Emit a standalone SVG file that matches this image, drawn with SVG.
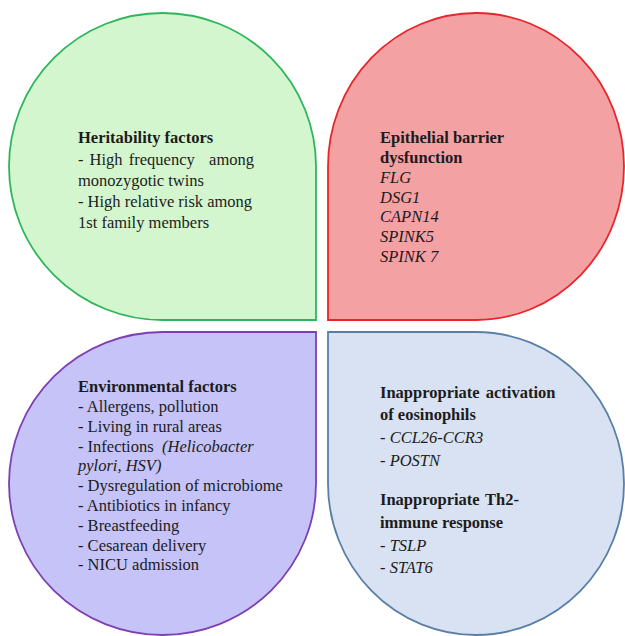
<svg xmlns="http://www.w3.org/2000/svg" width="625" height="636" viewBox="0 0 625 636">
<style>
.shape{stroke-width:1.8}
text{font-family:"Liberation Serif","Times New Roman",serif;font-size:16.5px;fill:#1c1c1c}
.b{font-weight:bold}
.i{font-style:italic}
</style>
<rect width="625" height="636" fill="#ffffff"/>
<g id="heritability">
<path class="shape" d="M316,320 L162.5,320 A153.5,153.5 0 0 1 9,166.5 A153.5,153.5 0 0 1 162.5,13 A153.5,153.5 0 0 1 316,166.5 Z" fill="#d4f6cf" stroke="#2db55a"/>
<text x="78" y="143" class="b">Heritability factors</text>
<text x="78" y="164.5" word-spacing="2">- High frequency<tspan x="254" text-anchor="end">among</tspan></text>
<text x="78" y="186">monozygotic twins</text>
<text x="78" y="207">- High relative risk among</text>
<text x="78" y="228">1st family members</text>
</g>
<g id="epithelial">
<path class="shape" d="M328,320 L328,166.5 A148,153.5 0 0 1 476,13 A148,153.5 0 0 1 624,166.5 A148,153.5 0 0 1 476,320 Z" fill="#f4a1a4" stroke="#e8252b"/>
<text x="380" y="143" class="b">Epithelial barrier</text>
<text x="380" y="163" class="b">dysfunction</text>
<text x="380" y="183" class="i">FLG</text>
<text x="380" y="202.5" class="i">DSG1</text>
<text x="380" y="222" class="i">CAPN14</text>
<text x="380" y="242" class="i">SPINK5</text>
<text x="380" y="261.5" class="i">SPINK 7</text>
</g>
<g id="environmental">
<path class="shape" d="M316,332 L316,483.5 A153.5,151.5 0 0 1 162.5,635 A153.5,151.5 0 0 1 9,483.5 A153.5,151.5 0 0 1 162.5,332 Z" fill="#c5c3f8" stroke="#7d3fb2"/>
<text x="78" y="392" class="b">Environmental factors</text>
<text x="78" y="412">- Allergens, pollution</text>
<text x="78" y="431.5">- Living in rural areas</text>
<text x="78" y="451.5">- Infections <tspan x="162" class="i">(Helicobacter</tspan></text>
<text x="78" y="471" class="i">pylori, HSV)</text>
<text x="78" y="491">- Dysregulation of microbiome</text>
<text x="78" y="511">- Antibiotics in infancy</text>
<text x="78" y="530.5">- Breastfeeding</text>
<text x="78" y="550.5">- Cesarean delivery</text>
<text x="78" y="570">- NICU admission</text>
</g>
<g id="immune">
<path class="shape" d="M328,332 L476,332 A148,151.5 0 0 1 624,483.5 A148,151.5 0 0 1 476,635 A148,151.5 0 0 1 328,483.5 Z" fill="#d8e2f2" stroke="#5a7fa6"/>
<text x="380" y="398" class="b" word-spacing="2">Inappropriate activation</text>
<text x="380" y="420" class="b">of eosinophils</text>
<text x="380" y="443">- <tspan class="i">CCL26-CCR3</tspan></text>
<text x="380" y="466">- <tspan class="i">POSTN</tspan></text>
<text x="380" y="505" class="b" word-spacing="1.5">Inappropriate Th2-</text>
<text x="380" y="527.5" class="b">immune response</text>
<text x="380" y="551">- <tspan class="i">TSLP</tspan></text>
<text x="380" y="573">- <tspan class="i">STAT6</tspan></text>
</g>
<g id="connectors"/>
</svg>
